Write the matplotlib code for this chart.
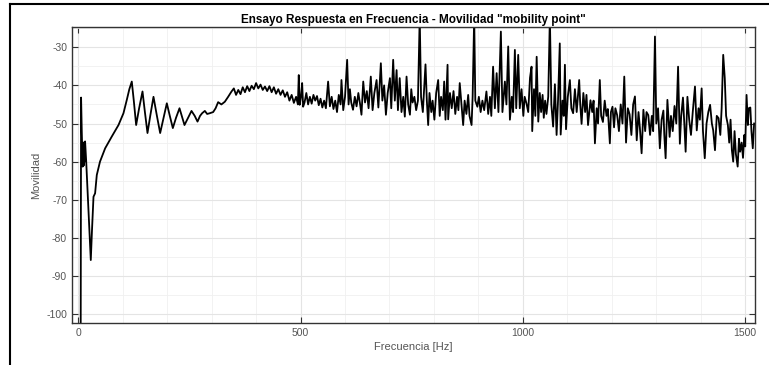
import matplotlib.pyplot as plt
from matplotlib.ticker import MultipleLocator
from matplotlib.lines import Line2D

plt.rcParams["font.family"] = ["Liberation Sans", "DejaVu Sans"]
plt.rcParams["axes.unicode_minus"] = False

# values (Hz, mobility dB)
freq_low = [0, 5.5, 6.5, 8, 10, 11.5, 12.5, 13.5, 14.5, 15.5, 18, 22, 26, 28.3, 31, 34.4, 36, 38,
            41.8, 49, 60.6, 75.6, 90.6, 101.8, 109.3, 115, 120.5, 125, 130.3, 137, 144.6, 150,
            155.8, 162, 169.3, 177, 184.3, 192, 199.3, 206, 212.8, 220, 227.8, 233, 239, 247,
            254.8, 262, 268.3, 274, 278.7, 284.8, 290, 296, 303.5, 309, 314.7, 322, 329.7, 337.2,
            344.8]
mob_low = [-110, -110, -43.2, -52, -61.3, -55, -61, -55, -60, -54.7, -60, -70, -80, -85.8, -78,
           -69.2, -68.8, -68.3, -63.5, -60, -56.5, -53.4, -50.4, -47.3, -43.8, -41, -39, -44,
           -50.4, -46, -41.6, -47, -52.5, -48, -43, -48, -52.5, -48.5, -44.7, -48, -51.2, -48.5,
           -46, -48, -50.4, -48.5, -46.7, -48, -49.5, -48, -47.3, -46.7, -47.5, -47.3, -47, -46,
           -44.4, -45, -44.3, -43, -41.6]

freq_mid = [350, 355, 360, 365, 370, 375, 380, 385, 390, 395, 400, 405, 410, 415, 420, 425, 430,
            435, 440, 445, 450, 455, 460, 465, 470, 475, 480, 485, 490, 494, 496, 498, 501, 503.6,
            505.8, 509, 513, 517, 521, 525, 529, 533, 537, 541, 545, 549, 553, 557, 562, 566, 570,
            574, 578, 582, 586, 590, 592, 596, 600, 604.8, 608, 611, 614, 618, 622, 626, 630, 634,
            637, 641, 645, 649, 653, 658, 662, 666, 671, 675, 680.6, 684, 688, 692, 696, 701, 704,
            708.3, 712, 716, 719, 723, 727, 731, 734.5, 738.4, 742, 746, 749, 752, 756, 760, 764]
mob_mid = [-40.8, -42.5, -41.2, -42.3, -40.5, -41.8, -40.2, -41.5, -40.1, -41, -39.4, -40.8,
           -39.8, -41.2, -40.3, -41.5, -40.2, -41.8, -40.5, -42.2, -41, -42.5, -41.3, -43, -41.8,
           -44, -42.5, -44.6, -43, -45, -37.3, -45.1, -43, -39.4, -45.6, -44.5, -42, -45, -43,
           -44.8, -42.5, -44, -42.8, -45.2, -43.5, -45.8, -44, -46, -39, -45.5, -43, -46.2, -44,
           -47, -42.5, -45, -38.6, -46.5, -43, -33.3, -45, -41, -44.5, -46.4, -43, -45.5, -42,
           -45, -47.7, -39, -44.5, -41.5, -46, -37.7, -46.5, -42, -38.6, -45.8, -34.2, -44, -40,
           -47.7, -42, -38.1, -46, -33.3, -44, -36, -46.5, -38.1, -47, -43, -48.2, -37.7, -45,
           -47.7, -41, -44.5, -43, -46.5, -44]

freq_high = [768, 771, 775, 778, 781, 784, 787, 790, 794, 797, 801, 805, 809.5, 813, 816, 820, 823,
             826, 830.6, 832, 836, 840, 844, 848, 852, 855, 858, 862, 865.7, 869, 873, 877, 880,
             884.6, 887, 890.5, 893, 897.6, 901, 905, 909, 913, 918, 922, 926, 929, 933, 937, 941,
             945, 950.5, 954, 959.5, 963, 967, 970.8, 975, 978, 982, 985, 989.5, 993, 997, 1001,
             1004, 1008, 1012, 1016, 1019.5, 1021, 1025, 1028, 1031, 1034.6, 1038, 1041, 1044.3,
             1047, 1050, 1053, 1057, 1060.7, 1064, 1068, 1072, 1075.8, 1079, 1083, 1085, 1089,
             1092, 1094.5, 1097, 1101, 1105.7, 1109, 1113, 1117, 1121, 1126.6, 1129, 1132, 1136,
             1140, 1143, 1146.5, 1152, 1156, 1159, 1162, 1166, 1169, 1173, 1176, 1180, 1184, 1188,
             1191, 1195.6, 1198, 1201.5, 1205, 1208, 1212, 1216, 1220, 1224, 1228, 1232, 1236,
             1240, 1244, 1248, 1252, 1256, 1260, 1263, 1267, 1271, 1275, 1278, 1282, 1286]
mob_high = [-22, -43, -47, -41, -34.5, -44, -50.4, -42, -47, -44, -49, -42, -38.6, -48, -43, -46.5,
            -39, -49, -34.6, -48.9, -42, -46, -41.5, -47.5, -43, -46.5, -39.4, -45, -50.4, -44,
            -47.5, -42.5, -48, -50.4, -43, -22, -44, -45.6, -43, -47, -44, -46.5, -41.6, -47.5,
            -43, -48, -35.1, -46, -36.8, -47, -25.9, -47, -39, -45, -29.8, -49, -43, -47, -30.7,
            -46, -32, -46, -41, -48, -43, -44.7, -47, -38, -35.1, -52, -41, -48, -32.5, -49.5,
            -42, -47, -42.5, -48.5, -44, -47.5, -43, -22, -45, -50.8, -39.7, -53, -44, -29, -52.9,
            -44, -48, -34.6, -51.5, -43, -38.6, -46, -47.3, -41, -47, -38.6, -45, -50.1, -42, -47,
            -42.5, -50.4, -43.9, -47, -44, -55.2, -46, -50, -38.6, -48, -49.6, -44, -48, -46.2,
            -55.2, -47, -45.6, -51, -46, -47.8, -52, -45, -50, -37.7, -55, -46, -47.6, -53, -45,
            -42.9, -54.4, -47, -51, -57.8, -46.4, -52, -47, -47.8, -53]

freq_top = [1290, 1293, 1297, 1300, 1304, 1308, 1312, 1316, 1318, 1321, 1325, 1330, 1333, 1337,
            1341, 1345, 1349, 1353, 1356, 1360, 1363, 1366, 1370, 1374, 1378, 1382, 1387, 1391,
            1395, 1398, 1402, 1405, 1409, 1413, 1417, 1421, 1425, 1428, 1432, 1436, 1440, 1444,
            1447, 1450.5, 1454, 1457, 1461, 1464, 1467, 1470, 1473, 1476, 1479, 1483, 1486, 1488.5,
            1492, 1495, 1498, 1500, 1503, 1506, 1508, 1511.5, 1514, 1517, 1520]
mob_top = [-48, -52, -27.2, -50, -46, -56.5, -49, -46.6, -53, -59.1, -43.8, -53.5, -48, -52, -45.4,
           -50, -35.1, -55.3, -48, -43.2, -50, -57.4, -43, -49, -53, -47, -40.3, -51.8, -46, -49,
           -40.8, -52, -59.1, -50, -47, -45.1, -50, -51.8, -57, -48, -48.6, -53, -46, -32, -38.1,
           -48, -50.4, -55, -49, -57, -60, -52, -58, -61.3, -54, -57.4, -55, -59, -53, -56, -42.5,
           -50.4, -46, -45.8, -52, -56.5, -50]

freq = freq_low + freq_mid + freq_high + freq_top
mob = mob_low + mob_mid + mob_high + mob_top

fig = plt.figure(figsize=(7.69, 3.65), dpi=100)
ax = fig.add_axes([0.0936, 0.1151, 0.8882, 0.8109])

ax.plot(freq, mob, color="black", linewidth=1.3)

ax.set_xlim(-14, 1522)
ax.set_ylim(-102.3, -24.7)
ax.xaxis.set_major_locator(MultipleLocator(500))
ax.xaxis.set_minor_locator(MultipleLocator(100))
ax.yaxis.set_major_locator(MultipleLocator(10))
ax.yaxis.set_minor_locator(MultipleLocator(5))
ax.grid(True, which="major", color="#e4e4e4", linewidth=0.8)
ax.grid(True, which="minor", color="#f0f0f0", linewidth=0.6)
ax.set_axisbelow(True)
ax.tick_params(which="major", direction="in", length=4, top=True, right=True,
               labelsize=7.5, labelcolor="#555555", color="#333333")
ax.tick_params(which="minor", length=0)
for s in ax.spines.values():
    s.set_color("#333333")
    s.set_linewidth(1.0)

ax.set_title('Ensayo Respuesta en Frecuencia - Movilidad "mobility point"',
             fontsize=8.5, fontweight="bold", pad=3)
ax.set_xlabel("Frecuencia [Hz]", fontsize=8, color="#555555", labelpad=3)
ax.set_ylabel("Movilidad", fontsize=8, color="#555555", labelpad=4)

# screenshot frame on the left and top
fig.add_artist(Line2D([0.013, 0.013], [0, 0.989], color="black", linewidth=1.5))
fig.add_artist(Line2D([0.013, 1.0], [0.989, 0.989], color="black", linewidth=1.5))

fig.savefig("out.png", dpi=100)
